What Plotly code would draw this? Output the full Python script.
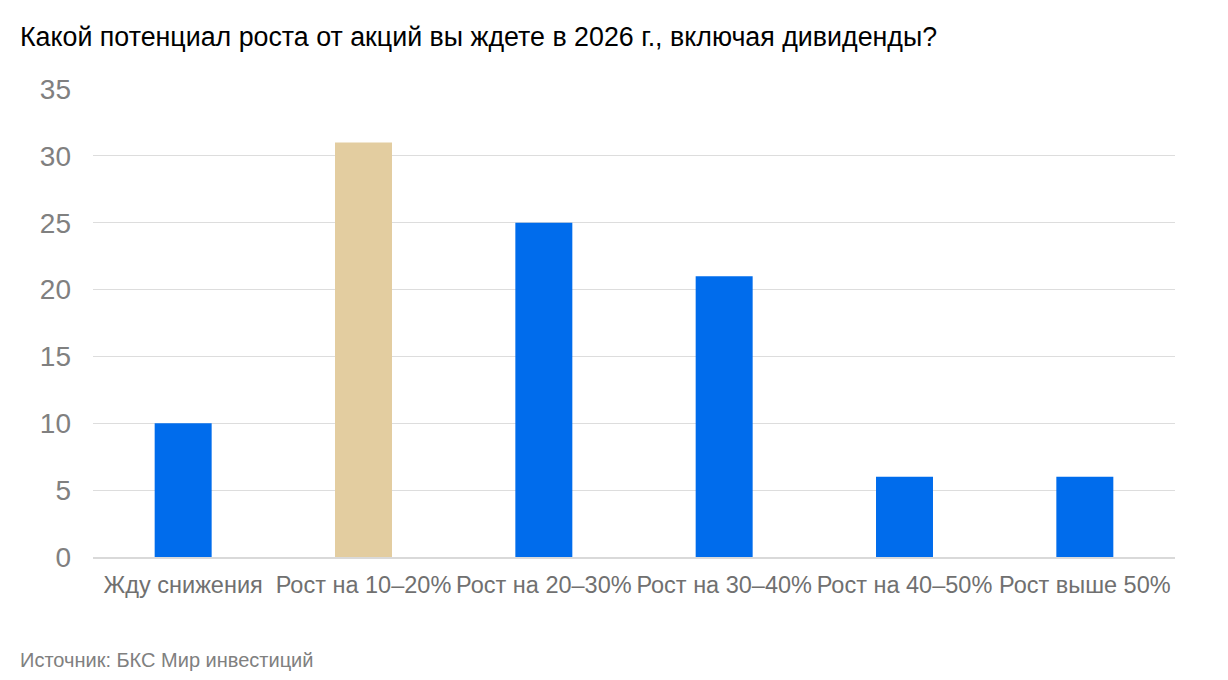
import plotly.graph_objects as go

categories = ["Жду снижения", "Рост на 10–20%", "Рост на 20–30%", "Рост на 30–40%", "Рост на 40–50%", "Рост выше 50%"]
values = [10, 31, 25, 21, 6, 6]
bar_colors = ["#006CEC", "#E3CDA0", "#006CEC", "#006CEC", "#006CEC", "#006CEC"]
y_ticks = [0, 5, 10, 15, 20, 25, 30, 35]

title_text = "Какой потенциал роста от акций вы ждете в 2026 г., включая дивиденды?"
source_text = "Источник: БКС Мир инвестиций"

L, R, T, B = 85, 61, 81, 131
PW, PH = 1228 - L - R, 680 - T - B

fig = go.Figure(go.Bar(x=categories, y=values, marker=dict(color=bar_colors, line=dict(width=0)),
                       hoverinfo="x+y"))

fig.update_layout(
    width=1228, height=680,
    margin=dict(l=L, r=R, t=T, b=B),
    paper_bgcolor="white", plot_bgcolor="white",
    font=dict(family="Liberation Sans, Arial, sans-serif"),
    bargap=0.684,
    showlegend=False,
    xaxis=dict(
        showline=True, linecolor="#D9D9D9", linewidth=2,
        tickfont=dict(size=23.5, color="#707070"),
        ticks="", showgrid=False, ticklabelstandoff=6,
    ),
    yaxis=dict(
        range=[0, 35], tickvals=y_ticks,
        tickfont=dict(size=28, color="#808080"),
        showgrid=True, gridcolor="#DDDDDD", gridwidth=1,
        zeroline=False, showline=False, ticks="", ticklabelstandoff=21,
    ),
)
fig.add_annotation(text=title_text, xref="paper", yref="paper",
                   x=-(L - 10) / PW, y=1 + (T - 29) / PH, xanchor="left", yanchor="middle",
                   showarrow=False, font=dict(size=26.8, color="#000000"))
fig.add_annotation(text=source_text, xref="paper", yref="paper",
                   x=-(L - 10) / PW, y=-(652 - (T + PH)) / PH, xanchor="left", yanchor="middle",
                   showarrow=False, font=dict(size=20, color="#808080"))

fig.write_html("out.html")
